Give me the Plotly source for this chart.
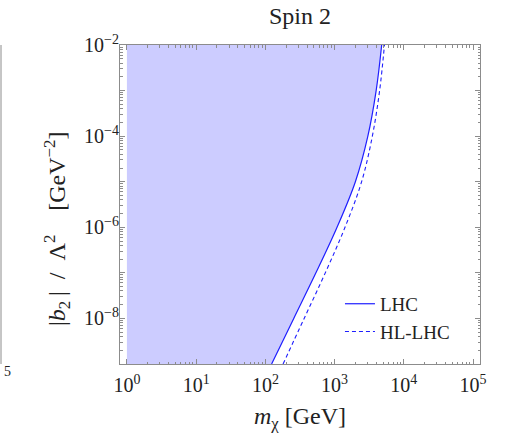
import plotly.graph_objects as go

# ---- data ----
title_text = "Spin 2"
coupling = [1e-9, 1e-8, 1e-7, 1e-6, 1e-5, 1e-4, 1e-3, 1e-2]      # |b2|/Lambda^2 [GeV^-2]
m_lhc = [123, 257, 537, 1084, 1995, 3020, 3981, 4786]              # m_chi [GeV], LHC
m_hllhc = [180, 363, 733, 1413, 2455, 3508, 4467, 5248]            # m_chi [GeV], HL-LHC
m_min = 1                                                           # lower mass of scan
x_decades = [0, 1, 2, 3, 4, 5]
y_decades = [-9, -8, -7, -6, -5, -4, -3, -2]
y_labeled = [-8, -6, -4, -2]

serif = "Liberation Serif"
blue = "rgb(30,30,255)"
fillc = "rgb(204,204,255)"
framec = "rgb(140,140,140)"
textc = "#222"

fig = go.Figure()

# left boundary of the excluded region (m = m_min)
fig.add_trace(go.Scatter(x=[m_min, m_min], y=[coupling[0], coupling[-1]], mode="lines",
                         line=dict(width=0, color=fillc), showlegend=False, hoverinfo="skip"))
# excluded region (filled up to the LHC curve)
fig.add_trace(go.Scatter(x=m_lhc, y=coupling, mode="lines", showlegend=False, hoverinfo="skip",
                         line=dict(color=fillc, width=0, shape="spline"),
                         fill="tonextx", fillcolor=fillc))
fig.add_trace(go.Scatter(x=m_lhc, y=coupling, mode="lines", name="LHC",
                         line=dict(color=blue, width=1.2, shape="spline")))
fig.add_trace(go.Scatter(x=m_hllhc, y=coupling, mode="lines", name="HL-LHC",
                         line=dict(color=blue, width=1.1, dash="4px,3px", shape="spline")))

def minor_vals(decs):
    vals = []
    for d in decs[:-1]:
        for k in range(2, 10):
            vals.append(k * 10 ** d)
    return vals

xt = [10 ** d for d in x_decades]
xtt = ["10<sup>%d</sup>" % d for d in x_decades]
yt = [10 ** d for d in y_decades]
ytt = [("10<sup>\u2212%d</sup>" % (-d)) if d in y_labeled else "" for d in y_decades]

axis_common = dict(showgrid=False, zeroline=False, showline=True, linecolor=framec, linewidth=1,
                   mirror="allticks", ticks="inside", ticklen=5, tickcolor=framec, tickwidth=1,
                   tickfont=dict(family=serif, size=20, color=textc))

fig.update_xaxes(type="log", range=[-0.1, 5.1], tickmode="array", tickvals=xt, ticktext=xtt,
                 minor=dict(tickmode="array", tickvals=minor_vals(x_decades + [6]), ticks="inside",
                            ticklen=2.5, tickcolor=framec, showgrid=False),
                 ticklabelstandoff=3,
                 title=dict(text="<i>m</i><sub>\u03c7</sub> [GeV]", standoff=22,
                            font=dict(family=serif, size=24, color=textc)),
                 **axis_common)
fig.update_yaxes(type="log", range=[-9, -2], tickmode="array", tickvals=yt, ticktext=ytt,
                 minor=dict(tickmode="array", tickvals=minor_vals(y_decades + [-1]), ticks="inside",
                            ticklen=2.5, tickcolor=framec, showgrid=False),
                 ticklabelstandoff=-4,
                 **axis_common)

# y-axis title (placed like the reference, slightly below the axis centre)
fig.add_annotation(text="|<i>b</i><sub>2</sub>\u2009|\u2002/\u2002\u039b<sup>2</sup>\u2003[GeV<sup>\u22122</sup>]",
                   xref="paper", yref="paper", x=-63 / 360, y=(364 - 229) / 319, textangle=-90,
                   showarrow=False, xanchor="center", yanchor="middle",
                   font=dict(family=serif, size=24, color=textc))

# fragment of the neighbouring panel at the left edge
fig.add_shape(type="line", xref="paper", yref="paper", x0=-119 / 360, x1=-119 / 360, y0=0, y1=1,
              line=dict(color=framec, width=1))
fig.add_annotation(text="5", xref="paper", yref="paper", x=-118 / 360, y=-8 / 319, showarrow=False,
                   xanchor="left", yanchor="middle", font=dict(family=serif, size=14, color=textc))

fig.update_layout(
    width=510, height=433,
    margin=dict(l=120, r=30, t=45, b=69, autoexpand=False),
    paper_bgcolor="white", plot_bgcolor="white",
    font=dict(family=serif),
    title=dict(text=title_text, x=0.5, xref="paper", xanchor="center", y=1 - 16 / 433, yanchor="middle",
               font=dict(family=serif, size=24, color=textc)),
    legend=dict(x=0.611, y=0.248, xanchor="left", yanchor="top", bgcolor="rgba(0,0,0,0)",
                traceorder="normal",
                font=dict(family=serif, size=19, color=textc), itemwidth=30, tracegroupgap=0),
    showlegend=True,
)

fig.write_html("out.html", config={"displayModeBar": False},
               post_script="document.body.style.margin='0';document.body.style.overflow='hidden';")
